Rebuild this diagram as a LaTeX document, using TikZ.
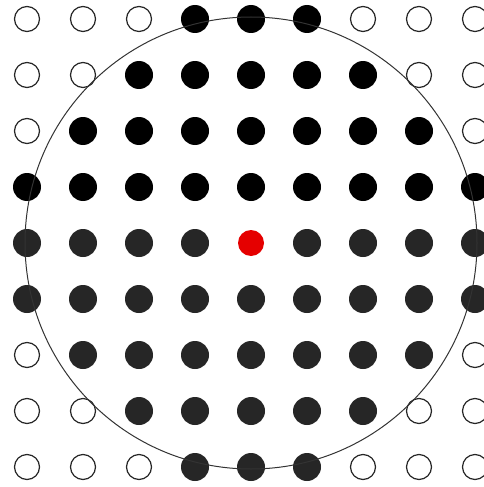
\documentclass[tikz,border=0pt]{standalone}
\begin{document}
\begin{tikzpicture}[x=1pt,y=-1pt,
  full/.style={circle,fill=black,draw=none,minimum size=28pt,inner sep=0pt},
  fullg/.style={circle,fill=black!85,draw=none,minimum size=28pt,inner sep=0pt},
  hollow/.style={circle,draw=black!85,line width=1.2pt,fill=white,minimum size=25pt,inner sep=0pt},
  reddot/.style={circle,fill=red!90!black,draw=none,minimum size=26pt,inner sep=0pt}]
\useasboundingbox (0,0) rectangle (484,487);
\fill[white] (0,0) rectangle (484,487);
\foreach \r/\pat in {1/{0,0,0,1,1,1,0,0,0},2/{0,0,1,1,1,1,1,0,0},3/{0,1,1,1,1,1,1,1,0},4/{1,1,1,1,1,1,1,1,1},5/{1,1,1,1,2,1,1,1,1},6/{1,1,1,1,1,1,1,1,1},7/{0,1,1,1,1,1,1,1,0},8/{0,0,1,1,1,1,1,0,0},9/{0,0,0,1,1,1,0,0,0}}{
  \foreach \v [count=\c] in \pat {
    \pgfmathsetmacro{\xx}{27+56*(\c-1)}
    \pgfmathsetmacro{\yy}{19+56*(\r-1)}
    \ifnum\v=0
      \node[hollow] (d\r\c) at (\xx,\yy) {};
    \else\ifnum\v=2
      \node[reddot] (d\r\c) at (\xx,\yy) {};
    \else
      \ifnum\r<5
        \node[full] (d\r\c) at (\xx,\yy) {};
      \else
        \node[fullg] (d\r\c) at (\xx,\yy) {};
      \fi
    \fi\fi
  }
}
\draw[black!80,line width=1pt] (d55.center) circle[radius=226];
\end{tikzpicture}
\end{document}
